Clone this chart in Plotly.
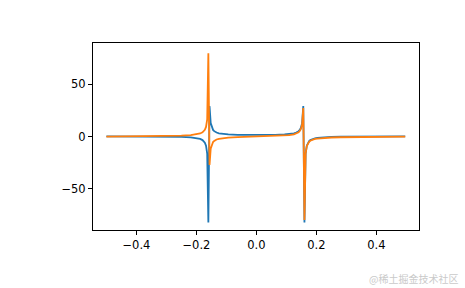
import plotly.graph_objects as go

# frequency bins (cycles/sample), sorted from -0.5 to +0.5
freq = [-0.5, -0.46875, -0.40625, -0.34375, -0.28125, -0.25, -0.21875, -0.203125,
        -0.1953125, -0.1875, -0.1796875, -0.17578125, -0.171875, -0.16796875,
        -0.1640625, -0.16015625, -0.15625, -0.15234375, -0.1484375, -0.14453125,
        -0.140625, -0.13671875, -0.1328125, -0.125, -0.109375, -0.09375, -0.0625,
        -0.03125, 0.0, 0.03125, 0.0625, 0.09375, 0.109375, 0.125, 0.1328125,
        0.13671875, 0.140625, 0.14453125, 0.1484375, 0.15234375, 0.15625,
        0.16015625, 0.1640625, 0.16796875, 0.171875, 0.17578125, 0.1796875,
        0.1875, 0.1953125, 0.203125, 0.21875, 0.25, 0.28125, 0.34375, 0.40625,
        0.46875, 0.49609375]

real_part = [0.22, 0.21, 0.18, 0.10, -0.10, -0.31, -0.77, -1.25,
             -1.65, -2.27, -3.38, -4.32, -5.85, -8.73,
             -16.20, -81.95, 29.14, 12.81, 8.40, 6.34,
             5.15, 4.38, 3.83, 3.12, 2.38, 2.00, 1.64,
             1.49, 1.45, 1.49, 1.64, 2.00, 2.38, 3.12, 3.83,
             4.38, 5.15, 6.34, 8.40, 12.81, 29.14,
             -81.95, -16.20, -8.73, -5.85, -4.32, -3.38,
             -2.27, -1.65, -1.25, -0.77, -0.31, -0.10, 0.10, 0.18,
             0.21, 0.22]

imag_part = [0.0, 0.06, 0.20, 0.38, 0.67, 0.92, 1.42, 1.91,
             2.31, 2.93, 4.01, 4.92, 6.39, 9.17,
             16.36, 79.59, -27.21, -11.50, -7.24, -5.26,
             -4.11, -3.35, -2.82, -2.12, -1.36, -0.95, -0.50,
             -0.22, 0.0, 0.22, 0.50, 0.95, 1.36, 2.12, 2.82,
             3.35, 4.11, 5.26, 7.24, 11.50, 27.21,
             -79.59, -16.36, -9.17, -6.39, -4.92, -4.01,
             -2.93, -2.31, -1.91, -1.42, -0.92, -0.67, -0.38, -0.20,
             -0.06, -0.01]

x_tickvals = [-0.4, -0.2, 0.0, 0.2, 0.4]
x_ticktext = ["\u22120.4", "\u22120.2", "0.0", "0.2", "0.4"]
y_tickvals = [-50, 0, 50]
y_ticktext = ["\u221250", "0", "50"]

fig = go.Figure()
fig.add_trace(go.Scatter(x=freq, y=real_part, mode="lines",
                         line=dict(color="#1f77b4", width=1.8), name="real"))
fig.add_trace(go.Scatter(x=freq, y=imag_part, mode="lines",
                         line=dict(color="#ff7f0e", width=1.8), name="imag"))

axis_common = dict(showgrid=False, zeroline=False, showline=True, linecolor="black",
                   linewidth=1, mirror=True, ticks="outside", ticklen=4,
                   tickcolor="black", tickwidth=1,
                   tickfont=dict(family="DejaVu Sans", size=11.5, color="black"))

fig.update_layout(
    width=465, height=288,
    margin=dict(l=93, r=46, t=43, b=58),
    paper_bgcolor="white", plot_bgcolor="white",
    showlegend=False,
    xaxis=dict(range=[-0.5447, 0.5420], tickvals=x_tickvals, ticktext=x_ticktext,
               **axis_common),
    yaxis=dict(range=[-89.2, 89.3], tickvals=y_tickvals, ticktext=y_ticktext,
               **axis_common),
    annotations=[dict(text="@稀土掘金技术社区", xref="paper", yref="paper",
                      x=1.1258, y=-0.2567, xanchor="right", yanchor="middle",
                      showarrow=False,
                      font=dict(family="Noto Sans CJK SC", size=10, color="#cacaca"))],
)

fig.write_html("out.html")
